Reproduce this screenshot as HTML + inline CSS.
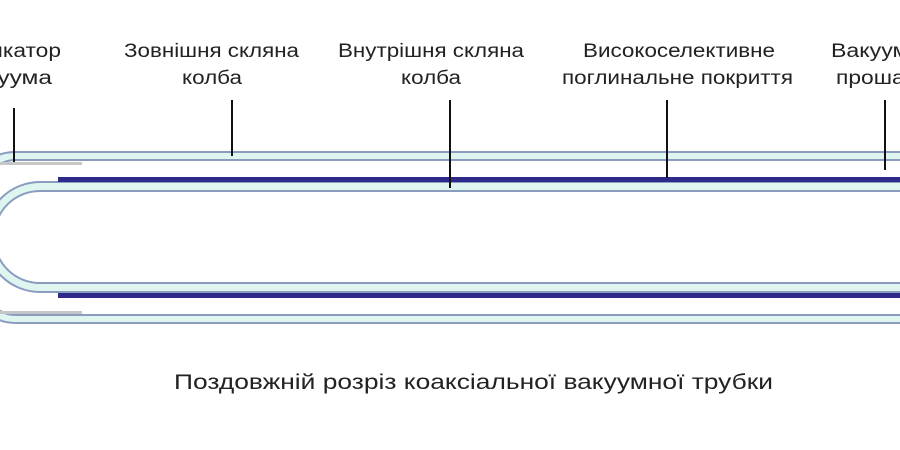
<!DOCTYPE html>
<html><head><meta charset="utf-8"><style>
html,body{margin:0;padding:0;background:#fff;}
svg{display:block;}
text{font-family:"Liberation Sans",Arial,sans-serif;fill:#222;}
</style></head><body>
<svg width="900" height="450" viewBox="0 0 900 450" xmlns="http://www.w3.org/2000/svg">
<rect width="900" height="450" fill="#fff"/>
<!-- outer tube top -->
<path d="M-20 168 Q-5 152 15 152 H900 V160 H15 Q2 160 -10 172 Z" fill="#dff5ef"/>
<path d="M-20 168 Q-5 152 15 152 H900" fill="none" stroke="#8a9cc0" stroke-width="2"/>
<path d="M-10 172 Q2 160 15 160 H900" fill="none" stroke="#8a9cc0" stroke-width="2"/>
<rect x="0" y="162" width="82" height="3" fill="#c4c6c8"/>
<!-- outer tube bottom -->
<path d="M-20 306 Q-5 323 15 323 H900 V315 H15 Q2 315 -10 303 Z" fill="#dff5ef"/>
<path d="M-20 306 Q-5 323 15 323 H900" fill="none" stroke="#8a9cc0" stroke-width="2"/>
<path d="M-10 303 Q2 315 15 315 H900" fill="none" stroke="#8a9cc0" stroke-width="2"/>
<rect x="0" y="311" width="82" height="3" fill="#c4c6c8"/>
<!-- inner tube -->
<path d="M900 186.5 H40 A50.5 50.5 0 0 0 40 287.5 H900" fill="none" stroke="#dff5ef" stroke-width="8"/>
<path d="M900 182 H40 A55 55 0 0 0 40 292 H900" fill="none" stroke="#8a9cc0" stroke-width="2"/>
<path d="M900 191 H40 A46 46 0 0 0 40 283 H900" fill="none" stroke="#8a9cc0" stroke-width="2"/>
<rect x="58" y="177" width="842" height="5" fill="#2e2a8c"/>
<rect x="58" y="293" width="842" height="5" fill="#2e2a8c"/>
<!-- leader lines -->
<g stroke="#111" stroke-width="2">
<line x1="14" y1="108" x2="14" y2="162"/>
<line x1="232" y1="100" x2="232" y2="156"/>
<line x1="450" y1="100" x2="450" y2="188"/>
<line x1="667" y1="100" x2="667" y2="178"/>
<line x1="885" y1="100" x2="885" y2="170"/>
</g>
<!-- labels -->
<g font-size="19" lengthAdjust="spacingAndGlyphs">
<text x="-42" y="57" textLength="103" lengthAdjust="spacingAndGlyphs">Індикатор</text>
<text x="-40" y="84" textLength="92" lengthAdjust="spacingAndGlyphs">вакуума</text>
<text x="124" y="57" textLength="175" lengthAdjust="spacingAndGlyphs">Зовнішня скляна</text>
<text x="182" y="84" textLength="60" lengthAdjust="spacingAndGlyphs">колба</text>
<text x="338" y="57" textLength="186" lengthAdjust="spacingAndGlyphs">Внутрішня скляна</text>
<text x="401" y="84" textLength="60" lengthAdjust="spacingAndGlyphs">колба</text>
<text x="583" y="57" textLength="192" lengthAdjust="spacingAndGlyphs">Високоселективне</text>
<text x="562" y="84" textLength="231" lengthAdjust="spacingAndGlyphs">поглинальне покриття</text>
<text x="831" y="57" textLength="116" lengthAdjust="spacingAndGlyphs">Вакуумний</text>
<text x="836" y="84" textLength="104" lengthAdjust="spacingAndGlyphs">прошарок</text>
</g>
<text x="174" y="389" font-size="21" textLength="599" lengthAdjust="spacingAndGlyphs">Поздовжній розріз коаксіальної вакуумної трубки</text>
</svg>
</body></html>
